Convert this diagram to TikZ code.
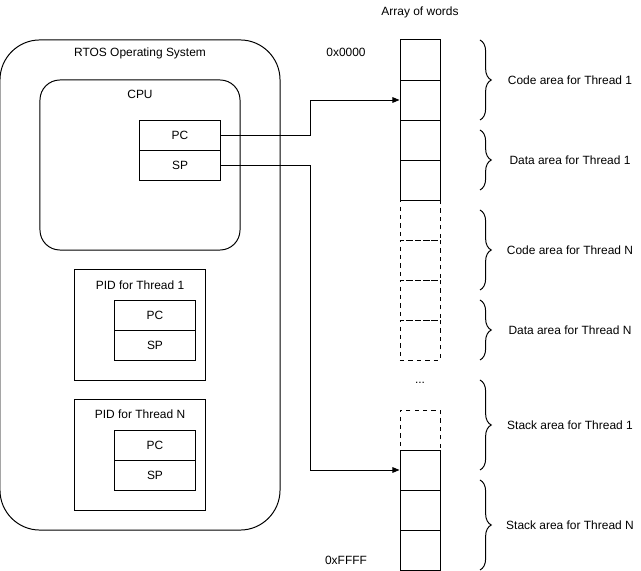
\documentclass[tikz,border=0pt]{standalone}
\usepackage{fontspec}
\setmainfont{Liberation Sans}
\usetikzlibrary{arrows.meta,decorations.pathreplacing}

\begin{document}
\begin{tikzpicture}[x=0.025cm,y=-0.025cm,line width=0.7pt,
    font=\fontsize{8.5}{10}\selectfont,
    reg/.style={draw,minimum width=2cm,minimum height=0.75cm,inner sep=0pt},
    cell/.style={draw,minimum width=1cm,minimum height=1cm,inner sep=0pt},
    ghost/.style={cell,dashed},
    area/.style={decorate,decoration={brace,amplitude=8pt}},
    link/.style={-{Triangle[length=5pt,width=4pt]}}]
    \useasboundingbox (0,0) rectangle (641,571);

    % Sistema operativo e CPU
    \node [draw,rounded corners=1cm,minimum width=7cm,minimum height=12.25cm](os) at (140,285) {};
    \node (ostitle) at (140,53) {RTOS Operating System};
    \node [draw,rounded corners=0.5cm,minimum width=5cm,minimum height=4.25cm](cpu) at (140,165) {};
    \node (cputitle) at (140,94) {CPU};
    \node [reg](pc) at (180,135) {PC};
    \node [reg](sp) at (180,165) {SP};

    % PID dei thread
    \node [draw,minimum width=3.25cm,minimum height=2.75cm](pidA) at (140,325) {};
    \node (pidAtitle) at (140,285) {PID for Thread 1};
    \node [reg](pcA) at (155,315) {PC};
    \node [reg](spA) at (155,345) {SP};
    \node [draw,minimum width=3.25cm,minimum height=2.75cm](pidN) at (140,455) {};
    \node (pidNtitle) at (140,414) {PID for Thread N};
    \node [reg](pcN) at (155,445) {PC};
    \node [reg](spN) at (155,475) {SP};

    % Array di parole
    \node (arraytitle) at (420,12) {Array of words};
    \node (first) at (346,52) {0x0000};
    \node (last) at (346,560) {0xFFFF};
    \foreach \y/\s [count=\i] in {60/cell,100/cell,140/cell,180/cell,220/ghost,260/ghost,300/ghost,340/ghost,430/ghost,470/cell,510/cell,550/cell}
        \node [\s](c\i) at (420,\y) {};
    \node (dots) at (420,383) {...};

    % Aree di memoria
    \foreach \a/\b/\t [count=\i] in {40/120/Code area for Thread 1,130/190/Data area for Thread 1,210/290/Code area for Thread N,300/360/Data area for Thread N,380/470/Stack area for Thread 1,480/570/Stack area for Thread N} {
        \draw [area] (480,\a) -- (480,\b);
        \node (area\i) at (570,{(\a+\b)/2}) {\t};
    }

    % Collegamenti
    \coordinate (bend) at (310,0);
    \draw [link] (pc.east) -- (pc.east -| bend) |- (c2.west);
    \draw [link] (sp.east) -- (sp.east -| bend) |- (c10.west);
\end{tikzpicture}
\end{document}
